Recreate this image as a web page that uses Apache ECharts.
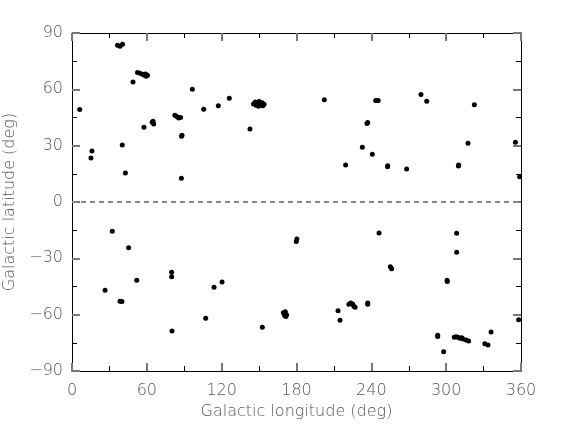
<!DOCTYPE html>
<html>
<head>
<meta charset="utf-8">
<script src="https://cdn.jsdelivr.net/npm/echarts@6/dist/echarts.min.js"></script>
<style>html,body{margin:0;padding:0;background:#fff}#c{width:581px;height:436px}</style>
</head>
<body>
<div id="c"></div>
<script>
const xTicks = [0, 60, 120, 180, 240, 300, 360];
const yTicks = [-90, -60, -30, 0, 30, 60, 90];
const longitudes = [
  36.5,38.5,40.5, 52.5,54.5,56.5,58,59.5,60.5,59, 48.9, 96.5, 6.2, 105.6, 117.3,
  82.5,84,85.5,87, 64.3,65.5,65, 57.7, 88.2,87.8, 40.3, 16, 15.2, 42.8, 87.7, 126.1,
  145.5,147,148.5,150,151,152.5,154,149.5,147.5,153, 142.7, 202.3, 237.1,236.5, 232.8,
  240.8, 219.4, 243.5,245.5, 279.8, 284.4, 322.6, 253.1,253, 268.3, 310,309.8, 317.5,
  355.5, 358.9,
  32.3, 45.4, 51.9, 26.5, 38.5,40, 79.9, 79.9, 80.2, 107.2, 113.9, 120.3, 179.8,180.3,
  152.6, 169.5,171,172,170.5,171.5, 213.3, 214.9, 222,223.5,225,226,227, 237.1,237.1,
  246.2, 255.2,256.3, 308.4, 308.4, 300.7,300.9, 358.1, 336, 293.2,293.2, 298,
  306.5,308,309.5,311,312.5,313.5,316,318, 331,333.5
];
const latitudes = [
  83.5,83,84, 69,68.5,68,67.5,67,67.5,68.2, 63.9, 60, 49.2, 49.4, 51.3,
  46.2,45.5,44.8,45, 42.5,41.5,43, 39.8, 35.5,35, 30.4, 27.2, 23.4, 15.4, 12.6, 55.2,
  52.2,53.2,52,53.5,51.5,52.8,52,51,51.5,51.3, 38.9, 54.5, 42.4,41.8, 29.1,
  25.4, 19.7, 54,54, 57.3, 53.6, 51.8, 19.3,18.8, 17.6, 19.7,19.2, 31.3,
  31.8, 13.5,
  -15.6, -24.3, -41.7, -47, -52.9,-53, -37.4, -39.8, -68.7, -61.9, -45.4, -42.6, -21,-19.7,
  -66.7, -59,-58.5,-60,-60.5,-61, -57.9, -63, -54.5,-53.8,-54.3,-55.5,-56, -53.8,-54.5,
  -16.5, -34.5,-35.6, -16.7, -26.8, -41.7,-42.3, -62.7, -69.2, -71,-71.6, -79.7,
  -72,-71.8,-72,-72.5,-72.3,-73,-73.5,-74, -75.5,-76.2
];
const points = longitudes.map((x, i) => [x, latitudes[i]]);

function font() { return {fontFamily: 'DejaVu Sans', fontWeight: 200, color: '#555', fontSize: 16}; }
const fmt = v => String(v).replace('-', '\u2212');

function axis(dim, pos, labelled) {
  const t = dim === 'x' ? xTicks : yTicks;
  const a = {
    type: 'value', min: t[0], max: t[t.length - 1], interval: t[1] - t[0], position: pos,
    axisLine: {show: true, onZero: false, lineStyle: {color: '#000', width: 1}},
    axisTick: {show: true, inside: true, length: 8, lineStyle: {color: '#777', width: 2}},
    minorTick: {show: true, splitNumber: 2, length: 5, lineStyle: {color: '#000', width: 1}},
    splitLine: {show: false},
    axisLabel: {show: false}
  };
  if (labelled) {
    a.axisLabel = Object.assign({show: true, margin: dim === 'x' ? 12 : 9, formatter: fmt}, font());
    a.name = dim === 'x' ? 'Galactic longitude (deg)' : 'Galactic latitude (deg)';
    a.nameLocation = 'middle';
    a.nameGap = dim === 'x' ? 30 : 45;
    a.nameTextStyle = font();
  }
  return a;
}

const chart = echarts.init(document.getElementById('c'));
chart.setOption({
  animation: false,
  backgroundColor: '#fff',
  grid: {left: 72, right: 60, top: 33, bottom: 65, outerBoundsMode: 'none'},
  xAxis: [axis('x', 'bottom', true), axis('x', 'top', false)],
  yAxis: [axis('y', 'left', true), axis('y', 'right', false)],
  series: [{
    type: 'scatter',
    data: points,
    symbol: 'circle',
    symbolSize: 5,
    clip: false,
    itemStyle: {color: '#000', opacity: 1},
    markLine: {
      silent: true, symbol: 'none', label: {show: false},
      lineStyle: {color: '#888', type: [5, 4], width: 2},
      data: [{yAxis: 0}]
    }
  }]
});
</script>
</body>
</html>
